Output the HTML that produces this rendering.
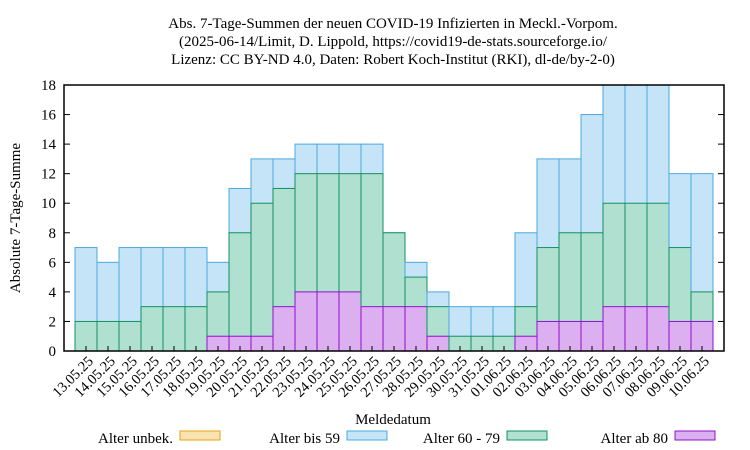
<!DOCTYPE html>
<html><head><meta charset="utf-8"><style>body{margin:0;background:#fff}svg{display:block;font-family:"Liberation Serif",serif}</style></head>
<body>
<svg id="chart" width="750" height="450">
<g font-size="15" text-anchor="middle">
<text x="393" y="28">Abs. 7-Tage-Summen der neuen COVID-19 Infizierten in Meckl.-Vorpom.</text>
<text x="393" y="46">(2025-06-14/Limit, D. Lippold, https://covid19-de-stats.sourceforge.io/</text>
<text x="393" y="64">Lizenz: CC BY-ND 4.0, Daten: Robert Koch-Institut (RKI), dl-de/by-2-0)</text>
</g>
<text font-size="15" text-anchor="middle" transform="translate(20,218) rotate(-90)">Absolute 7-Tage-Summe</text>
<text font-size="15" text-anchor="middle" x="393" y="424">Meldedatum</text>
<g id="bars"></g>
<g id="axes"></g>
<g font-size="15" text-anchor="end">
<g><text x="173" y="443">Alter unbek.</text><rect x="180" y="431" width="40" height="9" fill="#fbe3b0" stroke="#e8a317"/></g>
<g><text x="340" y="443">Alter bis 59</text><rect x="347" y="431" width="40" height="9" fill="#c6e4f7" stroke="#4aa8e0"/></g>
<g><text x="500" y="443">Alter 60 - 79</text><rect x="507" y="431" width="40" height="9" fill="#b0e0cf" stroke="#109060"/></g>
<g><text x="668" y="443">Alter ab 80</text><rect x="675" y="431" width="40" height="9" fill="#dcb0f0" stroke="#9010d0"/></g>
</g>
</svg>
<script>
const dates=["13.05.25","14.05.25","15.05.25","16.05.25","17.05.25","18.05.25","19.05.25","20.05.25","21.05.25","22.05.25","23.05.25","24.05.25","25.05.25","26.05.25","27.05.25","28.05.25","29.05.25","30.05.25","31.05.25","01.06.25","02.06.25","03.06.25","04.06.25","05.06.25","06.06.25","07.06.25","08.06.25","09.06.25","10.06.25"];
const ab80=[0,0,0,0,0,0,1,1,1,3,4,4,4,3,3,3,1,0,0,0,1,2,2,2,3,3,3,2,2];
const age6079=[2,2,2,3,3,3,3,7,9,8,8,8,8,9,5,2,2,1,1,1,2,5,6,6,7,7,7,5,2];
const bis59=[5,4,5,4,4,4,2,3,3,2,2,2,2,2,0,1,1,2,2,2,5,6,5,8,8,8,8,5,8];
const yTicks=[0,2,4,6,8,10,12,14,16,18];
const X0=64,X1=724,Y0=351,Y1=85,YMAX=18;
const xs=i=>X0+(X1-X0)*(i+1)/(dates.length+1);
const bw=(X1-X0)/(dates.length+1);
const ys=v=>Y0-(Y0-Y1)*Math.min(v,YMAX)/YMAX;
const NS="http://www.w3.org/2000/svg";
const bars=document.getElementById('bars'),axes=document.getElementById('axes');
function mk(tag,attrs,parent){const e=document.createElementNS(NS,tag);for(const k in attrs)e.setAttribute(k,attrs[k]);parent.appendChild(e);return e;}
const series=[["bis59","#c6e4f7","#4aa8e0"],["60-79","#b0e0cf","#109060"],["ab80","#dcb0f0","#9010d0"]];
dates.forEach((d,i)=>{
  const tops=[ab80[i]+age6079[i]+bis59[i],ab80[i]+age6079[i],ab80[i]];
  tops.forEach((t,s)=>{
    if(t<=0)return;
    const r=mk('rect',{x:xs(i)-bw/2,y:ys(t),width:bw,height:Y0-ys(t),fill:series[s][1],stroke:series[s][2],'stroke-width':1},bars);
    
    
  });
  const tk=mk('line',{x1:xs(i),x2:xs(i),y1:Y0,y2:Y0-5,stroke:'#000'},axes);
  
  
  const tl=mk('text',{'font-size':14.5,'text-anchor':'end',transform:`translate(${xs(i)+8},${Y0+11}) rotate(-45)`},axes);
  tl.textContent=d;
  
  
});
yTicks.forEach(v=>{
  const l=mk('line',{x1:X0,x2:X0+6,y1:ys(v),y2:ys(v),stroke:'#000'},axes);
  
  
  const l2=mk('line',{x1:X1,x2:X1-6,y1:ys(v),y2:ys(v),stroke:'#000'},axes);
  
  
  const t=mk('text',{x:X0-8,y:ys(v)+5,'font-size':15,'text-anchor':'end'},axes);
  t.textContent=v;
  
  
});
const fr=mk('rect',{x:X0,y:Y1,width:X1-X0,height:Y0-Y1,fill:'none',stroke:'#000','stroke-width':1.5},axes);


</script>
</body></html>
